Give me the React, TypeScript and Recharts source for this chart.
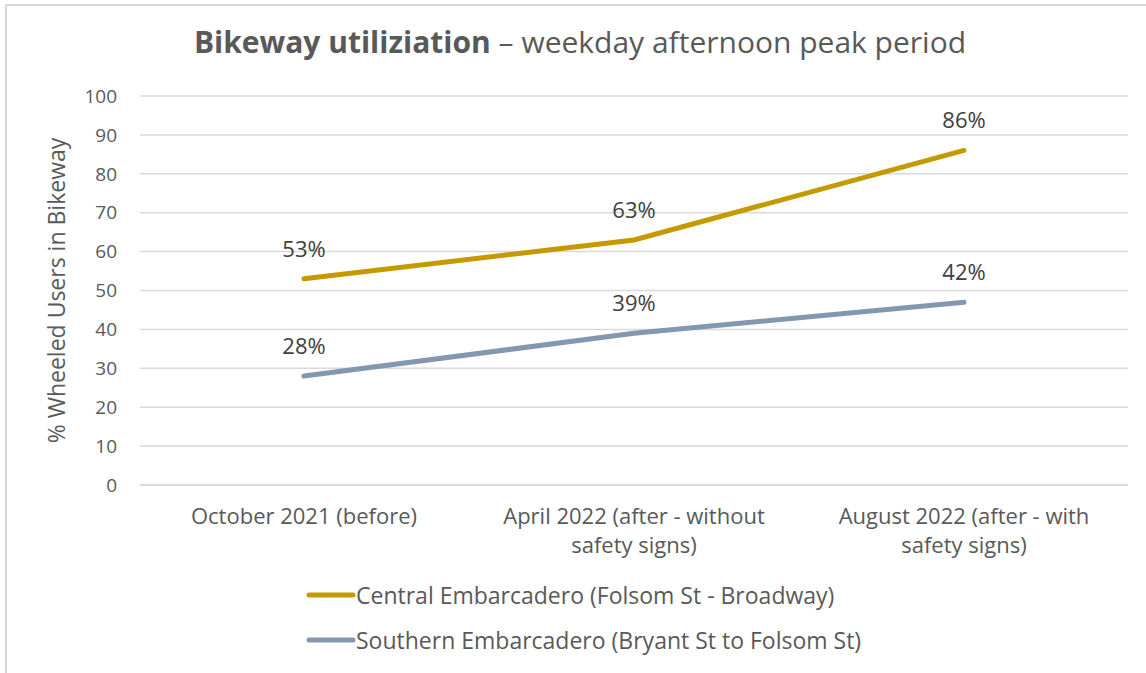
import { CartesianGrid, LabelList, Line, LineChart, XAxis, YAxis } from "recharts"

const categories = [
  "October 2021 (before)",
  "April 2022 (after - without\nsafety signs)",
  "August 2022 (after - with\nsafety signs)",
]
const central = [53, 63, 86]
const southern = [28, 39, 47]
const centralLabels = ["53%", "63%", "86%"]
const southernLabels = ["28%", "39%", "42%"]
const yTicks = [0, 10, 20, 30, 40, 50, 60, 70, 80, 90, 100]

const seriesNames = [
  "Central Embarcadero (Folsom St - Broadway)",
  "Southern Embarcadero (Bryant St to Folsom St)",
]
const colors = ["#C49A00", "#8497B0"]

const data = categories.map((name, i) => ({
  name,
  central: central[i],
  southern: southern[i],
  centralLabel: centralLabels[i],
  southernLabel: southernLabels[i],
}))

const font = "'Open Sans', sans-serif"

function CategoryTick(props: any) {
  const { x, y, payload } = props
  const lines = String(payload.value).split("\n")
  return (
    <text x={x} y={y} textAnchor="middle" fill="#595959" fontSize={22} fontFamily={font}>
      {lines.map((l, i) => (
        <tspan key={i} x={x} dy={i === 0 ? 31 : 29}>
          {l}
        </tspan>
      ))}
    </text>
  )
}

export default function App() {
  return (
    <div
      style={{
        position: "absolute",
        left: 0,
        top: 0,
        width: 1146,
        height: 673,
        background: "#fff",
        overflow: "hidden",
      }}
    >
      <div
        style={{
          position: "absolute",
          left: 5,
          top: 4,
          width: 1160,
          height: 700,
          borderTop: "2px solid #d9d9d9",
          borderLeft: "2px solid #d9d9d9",
        }}
      />
      <div
        style={{
          position: "absolute",
          left: 0,
          width: 1160,
          top: 21,
          textAlign: "center",
          fontFamily: font,
          fontSize: 30,
          color: "#595959",
          whiteSpace: "nowrap",
        }}
      >
        <b>Bikeway utiliziation</b> – weekday afternoon peak period
      </div>
      <div style={{ position: "absolute", left: 0, top: 0 }}>
        <LineChart width={1146} height={673} data={data} margin={{ top: 96, right: 18, bottom: 0, left: 0 }}>
          <CartesianGrid vertical={false} stroke="#d9d9d9" strokeWidth={1.5} />
          <XAxis
            dataKey="name"
            height={188}
            tick={<CategoryTick />}
            tickLine={false}
            axisLine={{ stroke: "#d9d9d9", strokeWidth: 1.5 }}
            interval={0}
            padding={{ left: 164, right: 164 }}
          />
          <YAxis
            width={140}
            domain={[0, 100]}
            ticks={yTicks}
            tickLine={false}
            axisLine={false}
            tickSize={0}
            tickMargin={23}
            tick={{ fill: "#595959", fontSize: 19, fontFamily: font }}
            label={{
              value: "% Wheeled Users in Bikeway",
              angle: -90,
              position: "insideLeft",
              dx: 52,
              dy: 0,
              style: { textAnchor: "middle", fill: "#595959", fontSize: 23, fontFamily: font },
            }}
          />
          <Line
            dataKey="central"
            stroke={colors[0]}
            strokeWidth={5}
            strokeLinecap="round"
            dot={false}
            isAnimationActive={false}
          >
            <LabelList dataKey="centralLabel" position="top" offset={22} fill="#404040" fontSize={22} fontFamily={font} />
          </Line>
          <Line
            dataKey="southern"
            stroke={colors[1]}
            strokeWidth={5}
            strokeLinecap="round"
            dot={false}
            isAnimationActive={false}
          >
            <LabelList dataKey="southernLabel" position="top" offset={22} fill="#404040" fontSize={22} fontFamily={font} />
          </Line>
        </LineChart>
      </div>
      <div style={{ position: "absolute", left: 306, top: 572, fontFamily: font, fontSize: 23, color: "#595959" }}>
        {seriesNames.map((n, i) => (
          <div key={n} style={{ display: "flex", alignItems: "center", height: 45 }}>
            <svg width={50} height={10}>
              <line x1={3} y1={5} x2={47} y2={5} stroke={colors[i]} strokeWidth={5} strokeLinecap="round" />
            </svg>
            <span>{n}</span>
          </div>
        ))}
      </div>
    </div>
  )
}
